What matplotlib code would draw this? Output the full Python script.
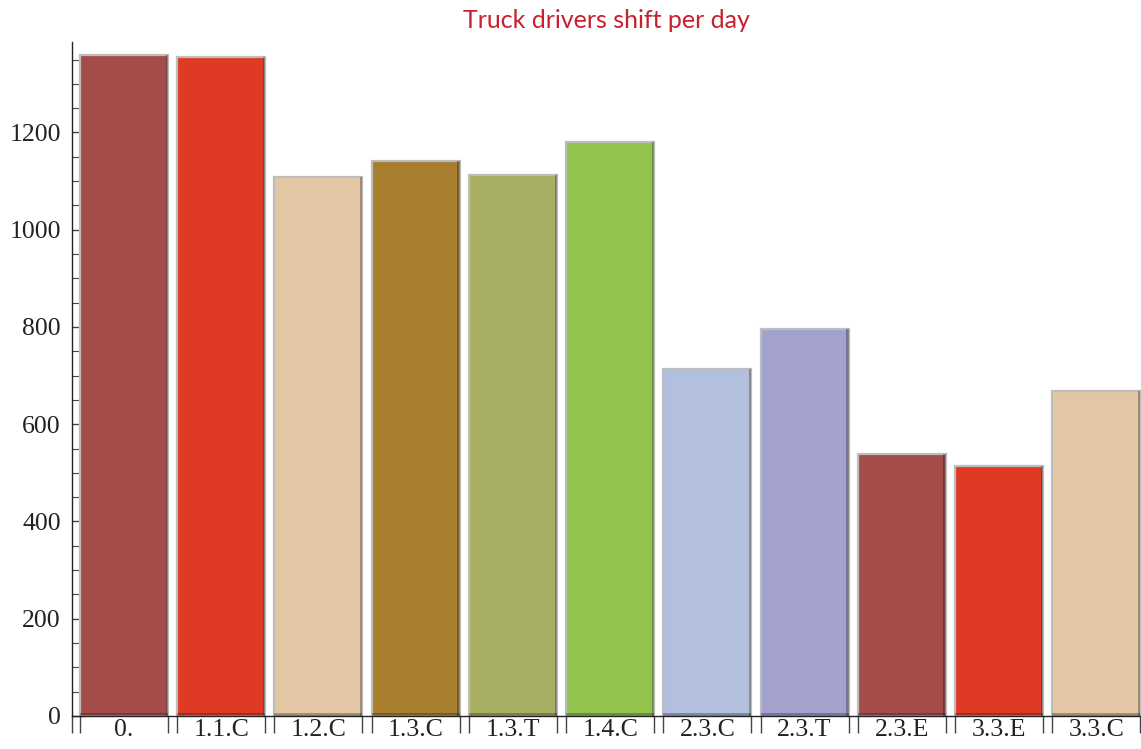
import numpy as np
import matplotlib.pyplot as plt
from matplotlib.ticker import MultipleLocator, FixedLocator, NullFormatter

# shift counts per category
categories = ['0.', '1.1.C', '1.2.C', '1.3.C', '1.3.T', '1.4.C',
              '2.3.C', '2.3.T', '2.3.E', '3.3.E', '3.3.C']
shifts = [1360, 1356, 1109, 1142, 1113, 1181, 714, 796, 539, 514, 669]
colors = ['#A34C4A', '#E03A25', '#E3C6A3', '#A77D2E', '#A9AF62', '#92C34E',
          '#B3BFDF', '#A3A2CF', '#A34C4A', '#E03A25', '#E3C6A3']

fig = plt.figure(figsize=(11.41, 7.49), dpi=100)
ax = fig.add_axes([72 / 1141, 33 / 749, 1 - 72 / 1141, (716 - 42) / 749])

x = np.arange(len(categories))
w = 0.905

# main bars with a light rim
ax.bar(x, shifts, width=w, color=colors, edgecolor='#BDBDBD', linewidth=1.6, zorder=2)

# darker shading strip on the right and bottom of each bar
for xi, h, c in zip(x, shifts, colors):
    ax.bar(xi + w / 2 - 0.012, h, width=0.024, bottom=0, color='black', alpha=0.28,
           linewidth=0, zorder=3)
    ax.bar(xi, 6, width=w, bottom=0, color='black', alpha=0.28, linewidth=0, zorder=3)

ax.set_xlim(-0.535, 10.46)
ax.set_ylim(0, 1386)

for side in ['top', 'right']:
    ax.spines[side].set_visible(False)
for side in ['left', 'bottom']:
    ax.spines[side].set_linewidth(1.0)
    ax.spines[side].set_color('#222222')

# y axis: major every 200, minor every 50, ticks pointing inward
ax.yaxis.set_major_locator(MultipleLocator(200))
ax.yaxis.set_minor_locator(MultipleLocator(50))
ax.tick_params(axis='y', which='major', direction='in', length=9, width=1.0,
               color='#444444', labelsize=18.5, pad=8)
ax.tick_params(axis='y', which='minor', direction='in', length=5, width=0.8,
               color='#444444')

# x axis: labels centered, ticks at bar edges
ax.set_xticks(x)
ax.set_xticklabels(categories)
edges = [-0.535] + [v for xi in x for v in (xi - w / 2, xi + w / 2)]
ax.xaxis.set_minor_locator(FixedLocator(edges))
ax.xaxis.set_minor_formatter(NullFormatter())
ax.tick_params(axis='x', which='major', length=0, labelsize=18.5, pad=2)
ax.tick_params(axis='x', which='minor', direction='out', length=12, width=1.0,
               color='#444444')

for lab in ax.get_xticklabels() + ax.get_yticklabels():
    lab.set_fontfamily('Liberation Serif')
    lab.set_color('#222222')

fig.text((72 + 1141) / 2 / 1141, 1 - 21 / 749, 'Truck drivers shift per day',
         ha='center', va='center', fontsize=18, color='#C8202F', family='Lato')

fig.savefig('out.png', dpi=100)
